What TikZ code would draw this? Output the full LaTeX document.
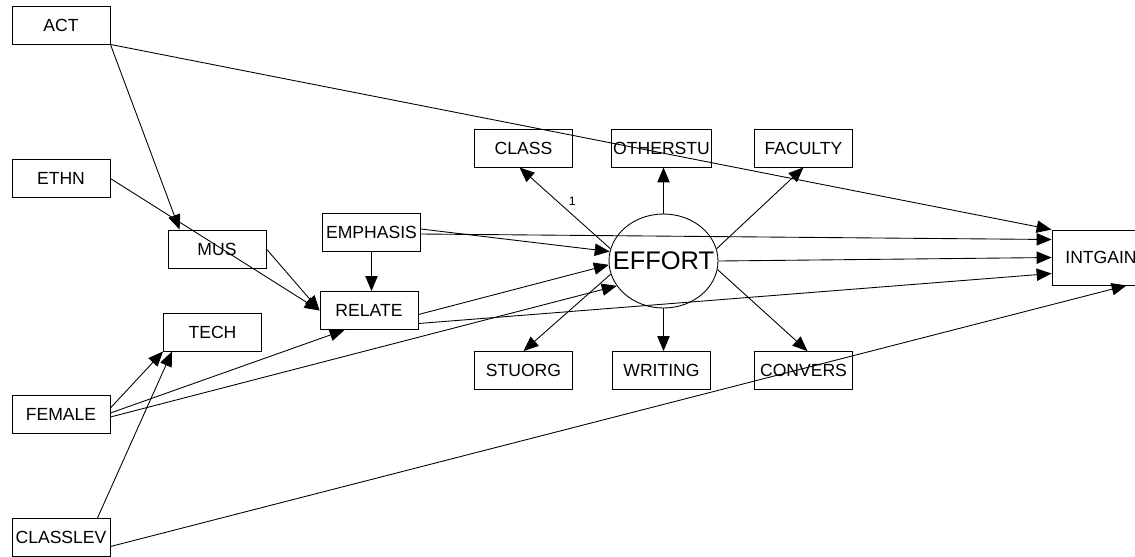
\documentclass[tikz,border=0pt]{standalone}
\usepackage{fontspec}
\setmainfont{Liberation Sans}
\usetikzlibrary{calc,arrows.meta,shapes}

\begin{document}
\begin{tikzpicture}[x=0.02cm,y=-0.02cm,line width=0.5pt,
  >={Triangle[length=8.5pt,width=7pt]},
  var/.style={draw,minimum width=1.96cm,minimum height=0.76cm,inner sep=1pt,font=\fontsize{10}{12}\selectfont},
  latent/.style={draw,ellipse,minimum width=2.18cm,minimum height=1.88cm,inner sep=0pt},
  coef/.style={font=\fontsize{7}{8}\selectfont,inner sep=1pt}]
\useasboundingbox (0,0) rectangle (1135,556);
% observed variables
\foreach \nm/\px/\py in {ACT/61/25, ETHN/61/178.5, MUS/217/249, EMPHASIS/371.5/232,
  RELATE/369/310.5, TECH/212.5/332, FEMALE/61/414, CLASSLEV/61/537.5,
  CLASS/523.5/148, OTHERSTU/661.5/148, FACULTY/803.5/148,
  STUORG/523.5/370.5, WRITING/661.5/370.5, CONVERS/803.5/370.5}
  \node[var] (\nm) at (\px,\py) {\nm};
\node[var,minimum height=1.1cm] (INTGAIN) at (1101,257.5) {INTGAIN};
% latent
\node[latent,label={[font=\fontsize{14.5}{17}\selectfont]center:EFFORT}] (EFFORT) at (663.5,261) {};
% structural paths
\draw[->] (ACT.south east) -- ($(MUS.north west)+(12,0)$);
\draw[->] (ACT.south east) -- (INTGAIN.north west);
\draw[->] (ETHN.east) -- (RELATE.west);
\draw[->] (MUS.east) -- (RELATE.west);
\draw[->] (EMPHASIS.south) -- (EMPHASIS.south |- RELATE.north);
\draw[->] ($(EMPHASIS.east)+(0,-3)$) -- (EFFORT.170);
\draw[->] ($(EMPHASIS.east)+(0,2)$) -- ($(INTGAIN.west)+(0,-18)$);
\draw[->] ($(RELATE.east)+(0,4)$) -- (EFFORT.184);
\draw[->] ($(RELATE.east)+(0,13)$) -- ($(INTGAIN.west)+(0,16)$);
\draw[->] ($(FEMALE.east)+(0,-6)$) -- (TECH.south west);
\draw[->] ($(FEMALE.east)+(0,-1)$) -- ($(RELATE.south west)+(25,0)$);
\draw[->] ($(FEMALE.east)+(0,3)$) -- (EFFORT.208);
\draw[->] ($(CLASSLEV.north east)+(-13,0)$) -- ($(TECH.south west)+(9,0)$);
\draw[->] ($(CLASSLEV.east)+(0,9)$) -- ($(INTGAIN.south west)+(75,0)$);
% measurement
\draw[->] (EFFORT.167) -- node[coef,pos=0.42,above=4pt] {1} ($(CLASS.south)+(-4,0)$);
\draw[->] (EFFORT.north) -- (EFFORT.north |- OTHERSTU.south);
\draw[->] (EFFORT.13) -- (FACULTY.south);
\draw[->] (EFFORT.194) -- (STUORG.north);
\draw[->] (EFFORT.south) -- (EFFORT.south |- WRITING.north);
\draw[->] (EFFORT.351) -- ($(CONVERS.north)+(4,0)$);
\draw[->] (EFFORT.east) -- (INTGAIN.west);
\end{tikzpicture}
\end{document}
